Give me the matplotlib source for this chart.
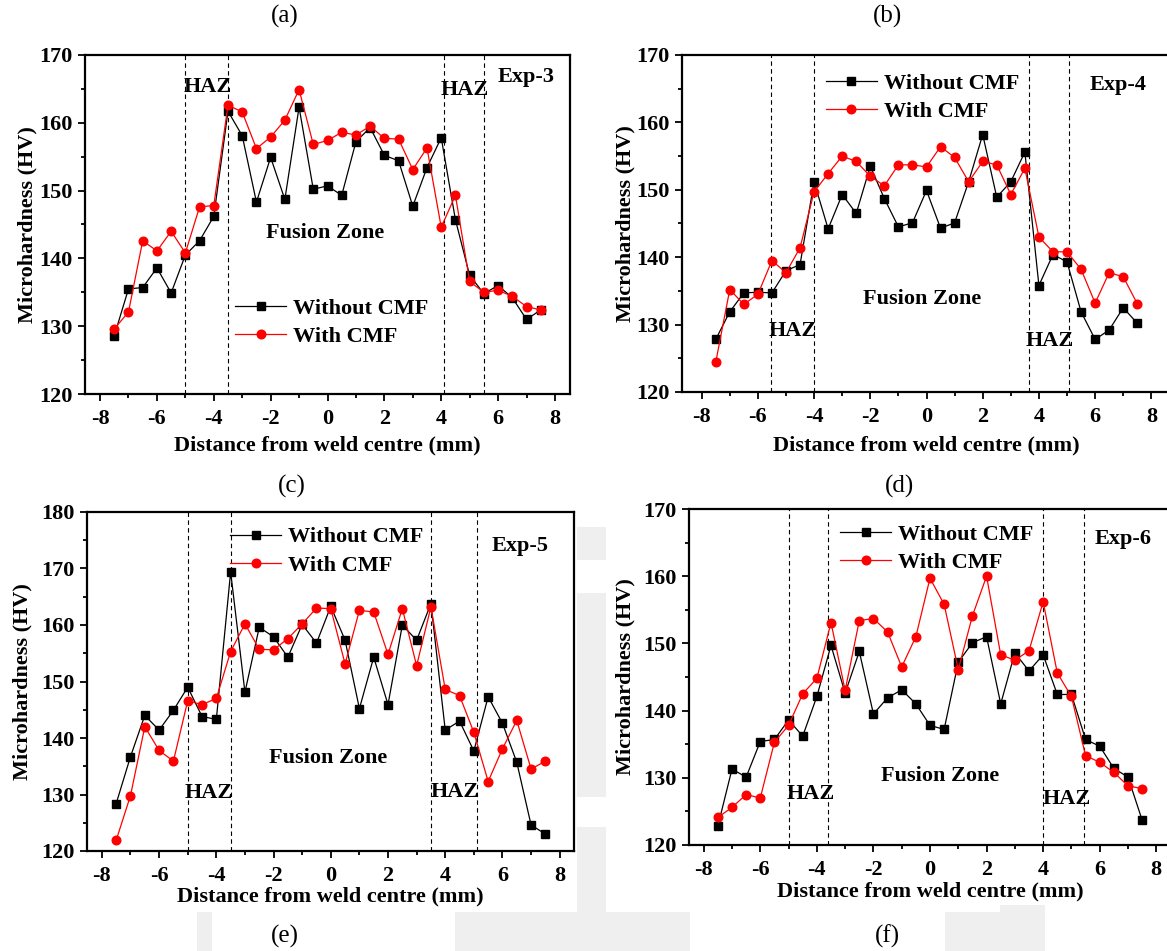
import matplotlib
matplotlib.use("Agg")
import matplotlib.pyplot as plt
from matplotlib.patches import Rectangle
from matplotlib.ticker import MultipleLocator

plt.rcParams['font.family'] = ['Liberation Serif', 'DejaVu Serif']
plt.rcParams['axes.unicode_minus'] = False

# Distance from weld centre (mm)
distance = [-7.5, -7.0, -6.5, -6.0, -5.5, -5.0, -4.5, -4.0, -3.5, -3.0, -2.5,
            -2.0, -1.5, -1.0, -0.5, 0.0, 0.5, 1.0, 1.5, 2.0, 2.5, 3.0, 3.5,
            4.0, 4.5, 5.0, 5.5, 6.0, 6.5, 7.0, 7.5]

# Exp-3
exp3_without = [128.6, 135.5, 135.7, 138.6, 134.9, 140.5, 142.6, 146.2, 161.7, 158.1, 148.3,
                154.9, 148.7, 162.3, 150.2, 150.7, 149.3, 157.2, 159.3, 155.2, 154.4, 147.7,
                153.4, 157.8, 145.7, 137.5, 134.8, 136.0, 134.2, 131.0, 132.4]
exp3_with = [129.6, 132.1, 142.6, 141.1, 144.0, 140.8, 147.6, 147.8, 162.6, 161.6, 156.2,
             157.9, 160.4, 164.9, 156.8, 157.4, 158.6, 158.2, 159.5, 157.7, 157.6, 153.1,
             156.3, 144.6, 149.3, 136.6, 135.0, 135.3, 134.4, 132.9, 132.4]

# Exp-4
exp4_without = [127.8, 131.9, 134.7, 134.8, 134.7, 138.0, 138.9, 151.2, 144.2, 149.3, 146.5,
                153.5, 148.7, 144.5, 145.1, 149.9, 144.3, 145.1, 151.2, 158.2, 148.9, 151.2,
                155.6, 135.8, 140.4, 139.3, 131.9, 127.8, 129.2, 132.5, 130.2]
exp4_with = [124.4, 135.2, 133.0, 134.5, 139.5, 137.7, 141.4, 149.7, 152.4, 155.0, 154.2,
             152.0, 150.6, 153.7, 153.7, 153.4, 156.4, 154.8, 151.2, 154.2, 153.7, 149.3,
             153.2, 143.0, 140.8, 140.8, 138.2, 133.2, 137.7, 137.1, 133.1]

# Exp-5
exp5_without = [128.4, 136.7, 144.0, 141.4, 144.9, 149.0, 143.8, 143.3, 169.4, 148.1, 159.6,
                157.9, 154.3, 160.1, 156.8, 163.3, 157.3, 145.2, 154.3, 145.9, 160.0, 157.3,
                163.8, 141.4, 143.0, 137.7, 147.3, 142.6, 135.7, 124.6, 123.0]
exp5_with = [121.9, 129.8, 142.0, 137.8, 135.9, 146.6, 145.9, 147.0, 155.3, 160.2, 155.7,
             155.6, 157.6, 160.2, 163.0, 162.9, 153.1, 162.6, 162.3, 154.8, 162.9, 152.8,
             163.2, 148.6, 147.5, 141.0, 132.3, 138.1, 143.1, 134.5, 135.9]

# Exp-6
exp6_without = [122.8, 131.3, 130.1, 135.4, 135.7, 138.6, 136.2, 142.1, 149.7, 142.6, 148.8,
                139.5, 141.9, 143.1, 141.0, 137.8, 137.2, 147.2, 150.1, 151.0, 141.0, 148.6,
                145.9, 148.3, 142.4, 142.4, 135.7, 134.7, 131.4, 130.1, 123.7]
exp6_with = [124.1, 125.6, 127.5, 127.0, 135.3, 137.8, 142.5, 144.8, 153.1, 143.0, 153.4,
             153.7, 151.7, 146.5, 151.0, 159.7, 155.8, 146.1, 154.1, 160.0, 148.3, 147.5,
             148.9, 156.2, 145.6, 142.1, 133.3, 132.3, 130.8, 128.8, 128.4]

# Zone boundaries (mm)
exp3_bounds = [-5.0, -3.5, 4.1, 5.5]
exp4_bounds = [-5.55, -4.0, 3.65, 5.08]
exp5_bounds = [-5.0, -3.5, 3.5, 5.1]
exp6_bounds = [-5.0, -3.6, 4.0, 5.45]

W, H = 1167, 951
fig = plt.figure(figsize=(W / 100, H / 100), dpi=100)
fig.patch.set_facecolor('white')

# faint background marks behind the panels
wm = '#efefef'
for (x0, y0, x1, y1) in [(577, 527, 606, 560), (577, 593, 606, 797), (577, 827, 606, 951),
                         (455, 912, 690, 951), (945, 912, 1000, 951), (1000, 905, 1045, 951),
                         (197, 912, 212, 951)]:
    fig.patches.append(Rectangle((x0 / W, 1 - y1 / H), (x1 - x0) / W, (y1 - y0) / H,
                                 transform=fig.transFigure, facecolor=wm,
                                 edgecolor='none', zorder=-5))

bold = dict(fontweight='bold', family=['Liberation Serif', 'DejaVu Serif'])
TXT = 16
TICK = 16


def add_panel(box, xlim, ylim, without, withc, bounds, exp_label, exp_pos,
              haz_pos, fz_pos, leg_anchor, ylab_x, xlab_y):
    l, t, r, b = box
    ax = fig.add_axes([l / W, 1 - b / H, (r - l) / W, (b - t) / H])
    ax.set_facecolor('white')
    ax.plot(distance, without, color='black', lw=0.9, marker='s', ms=5.2,
            mfc='black', mec='black', label='Without CMF', zorder=3)
    ax.plot(distance, withc, color='red', lw=0.9, marker='o', ms=6.2,
            mfc='red', mec='red', label='With CMF', zorder=3)
    for xb in bounds:
        ax.axvline(xb, color='black', lw=0.8, ls=(0, (4, 3)), zorder=1)
    ax.set_xlim(*xlim)
    ax.set_ylim(*ylim)
    ax.xaxis.set_major_locator(MultipleLocator(2))
    ax.xaxis.set_minor_locator(MultipleLocator(1))
    ax.yaxis.set_major_locator(MultipleLocator(10))
    ax.yaxis.set_minor_locator(MultipleLocator(5))
    ax.tick_params(which='both', direction='out', width=1.3, labelsize=TICK, pad=4)
    ax.tick_params(axis='x', which='major', pad=6)
    ax.tick_params(which='major', length=5)
    ax.tick_params(which='minor', length=3)
    for lab in ax.get_xticklabels() + ax.get_yticklabels():
        lab.set_fontweight('bold')
    for sp in ax.spines.values():
        sp.set_linewidth(1.6)
    ax.set_xlabel('Distance from weld centre (mm)', fontsize=TXT, **bold)
    ax.set_ylabel('Microhardness (HV)', fontsize=TXT, **bold)
    ax.yaxis.set_label_coords(ylab_x, 0.5)
    ax.xaxis.set_label_coords(0.5, xlab_y)
    ax.text(exp_pos[0], exp_pos[1], exp_label, fontsize=TXT, ha='center', va='center', **bold)
    for hp in haz_pos:
        ax.text(hp[0], hp[1], 'HAZ', fontsize=TXT, ha='center', va='center', **bold)
    ax.text(fz_pos[0], fz_pos[1], 'Fusion Zone', fontsize=TXT, ha='center', va='center', **bold)
    ax.legend(loc='upper left', bbox_to_anchor=leg_anchor, frameon=False,
              prop=dict(family=['Liberation Serif', 'DejaVu Serif'], weight='bold', size=TXT),
              handlelength=2.3, handletextpad=0.3, labelspacing=0.35,
              borderaxespad=0, borderpad=0)
    return ax


add_panel((85, 55, 570, 394), (-8.53, 8.53), (120, 170), exp3_without, exp3_with,
          exp3_bounds, 'Exp-3', (6.98, 166.8), [(-4.23, 165.3), (4.83, 164.9)],
          (-0.08, 143.8), (0.31, 0.283), -0.099, -0.121)
add_panel((682, 55, 1171, 392), (-8.7, 8.7), (120, 170), exp4_without, exp4_with,
          exp4_bounds, 'Exp-4', (6.81, 165.6), [(-4.75, 129.1), (4.38, 127.5)],
          (-0.14, 133.8), (0.294, 0.946), -0.096, -0.128)
add_panel((87, 512, 574, 851), (-8.52, 8.5), (120, 180), exp5_without, exp5_with,
          exp5_bounds, 'Exp-5', (6.62, 174.0), [(-4.25, 130.2), (4.33, 130.5)],
          (-0.08, 136.4), (0.294, 0.956), -0.111, -0.106)
add_panel((689, 509, 1171, 845), (-8.52, 8.52), (120, 170), exp6_without, exp6_with,
          exp6_bounds, 'Exp-6', (6.81, 165.5), [(-4.23, 127.6), (4.82, 126.8)],
          (0.35, 130.3), (0.314, 0.955), -0.112, -0.110)

# panel captions
for lab, (cx, cy) in [('(a)', (285, 16)), ('(b)', (887, 16)), ('(c)', (292, 486)),
                      ('(d)', (900, 486)), ('(e)', (285, 936)), ('(f)', (887, 936))]:
    fig.text(cx / W, 1 - cy / H, lab, fontsize=18, ha='center', va='center',
             family=['Liberation Serif', 'DejaVu Serif'])

fig.savefig('out.png', dpi=100)
